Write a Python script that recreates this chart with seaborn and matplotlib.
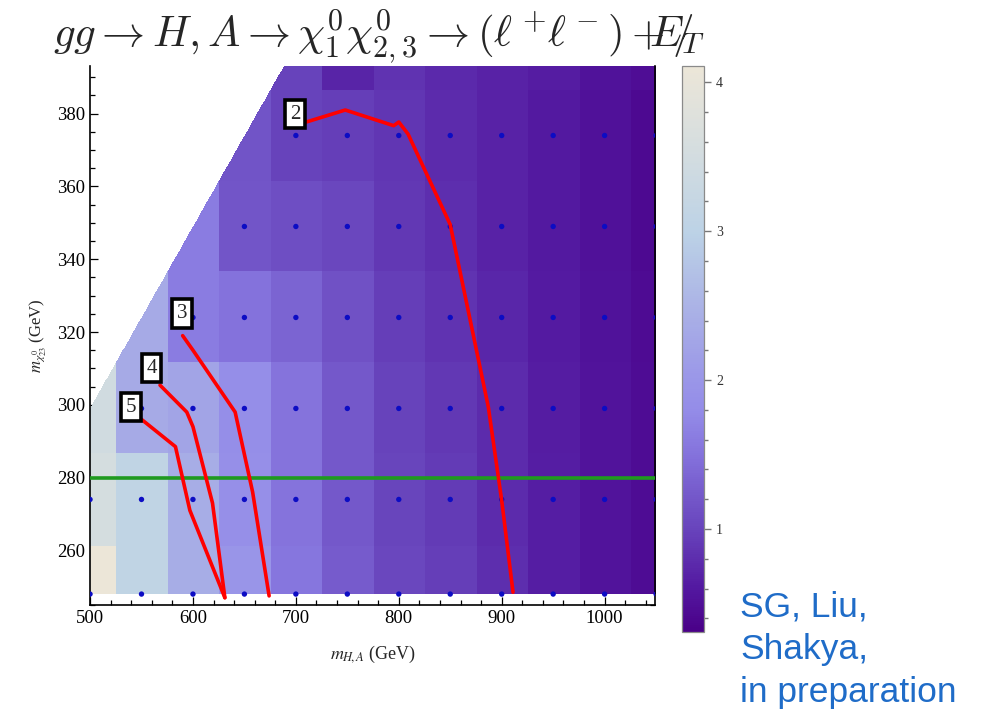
import numpy as np
import pandas as pd
import matplotlib
matplotlib.use("Agg")
import matplotlib.pyplot as plt
import seaborn as sns
from matplotlib.colors import LinearSegmentedColormap
from matplotlib.path import Path
from matplotlib.ticker import MultipleLocator

# ---- grid of benchmark points -------------------------------------------
m_ha = [500, 550, 600, 650, 700, 750, 800, 850, 900, 950, 1000, 1050]
m_chi = [248, 274, 299, 324, 349, 374, 399]

nan = np.nan
# significance at each (m_chi row, m_HA column)
sig_248 = [4.10, 3.10, 2.40, 2.00, 1.55, 1.25, 1.05, 0.95, 0.80, 0.66, 0.56, 0.46]
sig_274 = [3.55, 3.10, 2.40, 1.88, 1.52, 1.22, 1.02, 0.92, 0.78, 0.66, 0.56, 0.46]
sig_299 = [3.45, 2.35, 2.25, 1.85, 1.52, 1.22, 1.00, 0.90, 0.78, 0.65, 0.56, 0.46]
sig_324 = [nan, 2.35, 1.62, 1.50, 1.35, 1.15, 0.95, 0.85, 0.74, 0.63, 0.54, 0.45]
sig_349 = [nan, nan, 1.62, 1.20, 1.12, 1.05, 0.90, 0.80, 0.70, 0.62, 0.52, 0.44]
sig_374 = [nan, nan, nan, 1.18, 1.00, 0.95, 0.88, 0.78, 0.70, 0.62, 0.52, 0.44]
sig_399 = [nan, nan, nan, nan, 1.00, 0.72, 0.85, 0.76, 0.70, 0.64, 0.54, 0.48]

# first simulated (marked) m_HA in each row
marked_from = [500, 500, 550, 600, 650, 700, 750]

# discovery contours (m_HA, m_chi)
c2_x = [710, 748, 795, 800, 809, 850, 887, 900, 911]
c2_y = [377.7, 381.0, 376.7, 377.7, 374.4, 349.5, 299.4, 273.7, 248.5]
c3_x = [590, 600, 641, 658, 674]
c3_y = [319, 315, 298, 276, 247.5]
c4_x = [568, 594, 600, 619, 631]
c4_y = [305.4, 298, 294, 273, 247]
c5_x = [550, 583, 597, 631]
c5_y = [296, 288.5, 271, 247]
contour_names = ["2", "3", "4", "5"]
contour_xs = [c2_x, c3_x, c4_x, c5_x]
contour_ys = [c2_y, c3_y, c4_y, c5_y]

mass_line = 280

# ---- styling --------------------------------------------------------------
sns.set_style("white")
plt.rcParams["font.family"] = ["Liberation Serif", "DejaVu Serif"]

cmap = LinearSegmentedColormap.from_list(
    "sig",
    [(0.00, "#4a0088"), (0.076, "#5318a0"), (0.181, "#6844bc"),
     (0.312, "#8472dc"), (0.391, "#948ce8"), (0.444, "#9a96e8"),
     (0.575, "#abb3e6"), (0.706, "#bcd2e6"), (0.837, "#d2dce0"),
     (1.00, "#ece6d8")])
vmin, vmax = 0.31, 4.11

fig = plt.figure(figsize=(9.84, 7.11), dpi=100)
ax = fig.add_axes([0.0915, 0.1491, 0.5742, 0.7581])
cax = fig.add_axes([0.6928, 0.1115, 0.0230, 0.7957])

xlim = (500, 1049)
ylim = (245, 393.1)

# ---- nearest-point density inside the convex hull of the points -----------
Z = np.array([sig_248, sig_274, sig_299, sig_324, sig_349, sig_374, sig_399])
X, Y = np.meshgrid(m_ha, m_chi)
ok = ~np.isnan(Z)
px, py, pz = X[ok].astype(float), Y[ok].astype(float), Z[ok]

gx = np.arange(xlim[0], 1050.01, 0.5)
gy = np.arange(ylim[0], ylim[1] + 0.01, 0.25)
GX, GY = np.meshgrid(gx, gy)
best = np.full(GX.shape, np.inf)
field = np.full(GX.shape, np.nan)
for xi, yi, zi in zip(px, py, pz):
    d = (GX - xi) ** 2 + (GY - yi) ** 2
    closer = d < best
    best[closer] = d[closer]
    field[closer] = zi


def convex_hull(pts):
    pts = sorted(set(pts))
    def cross(o, a, b):
        return (a[0] - o[0]) * (b[1] - o[1]) - (a[1] - o[1]) * (b[0] - o[0])
    lower, upper = [], []
    for p in pts:
        while len(lower) >= 2 and cross(lower[-2], lower[-1], p) <= 0:
            lower.pop()
        lower.append(p)
    for p in reversed(pts):
        while len(upper) >= 2 and cross(upper[-2], upper[-1], p) <= 0:
            upper.pop()
        upper.append(p)
    return lower[:-1] + upper[:-1]


hull = Path(convex_hull(list(zip(px, py))))
inside = hull.contains_points(np.c_[GX.ravel(), GY.ravel()], radius=0.01)
field[~inside.reshape(GX.shape)] = np.nan

cm = cmap.copy()
cm.set_bad((1, 1, 1, 0))
im = ax.imshow(field, origin="lower", cmap=cm, vmin=vmin, vmax=vmax,
               extent=[gx[0], gx[-1], gy[0], gy[-1]], aspect="auto",
               interpolation="nearest", zorder=1)

# simulated points
rows = []
for yi, first, zrow in zip(m_chi, marked_from, Z):
    for xi, zi in zip(m_ha, zrow):
        if xi >= first and not np.isnan(zi):
            rows.append({"m_ha": xi, "m_chi": yi})
dots = pd.DataFrame(rows)
sns.scatterplot(data=dots, x="m_ha", y="m_chi", color="#0c0cc4", s=15,
                edgecolor="none", ax=ax, zorder=3, legend=False)

ax.axhline(mass_line, color="#1f9a1f", lw=2.6, zorder=4)

label_pos = [(699, 379.8), (589.5, 325.1), (559.8, 310.1), (539.8, 299.4)]
for name, cx, cy, (lx, ly) in zip(contour_names, contour_xs, contour_ys, label_pos):
    sns.lineplot(x=cx, y=cy, sort=False, estimator=None, color="#ff0000",
                 lw=2.6, ax=ax, zorder=5)
    ax.text(lx, ly, name, ha="center", va="center", fontsize=15, zorder=6,
            bbox=dict(boxstyle="square,pad=0.22", fc="white", ec="black", lw=2.6))

ax.set_xlim(*xlim)
ax.set_ylim(*ylim)
ax.xaxis.set_major_locator(MultipleLocator(100))
ax.xaxis.set_minor_locator(MultipleLocator(20))
ax.yaxis.set_major_locator(MultipleLocator(20))
ax.yaxis.set_minor_locator(MultipleLocator(5))
ax.tick_params(which="both", direction="in", left=True, right=True,
               bottom=True, top=False, labelsize=13.5, colors="black",
               width=0.9)
ax.tick_params(which="major", length=6)
ax.tick_params(which="minor", length=3.5)
ax.spines["top"].set_visible(False)
for s in ("left", "bottom", "right"):
    ax.spines[s].set_color("black")
    ax.spines[s].set_linewidth(1.2)

ax.set_xlabel(r"$m_{H\!,A}$ (GeV)", fontsize=13, labelpad=12,
              math_fontfamily="stix")
ax.set_ylabel(r"$m_{\chi^0_{23}}$ (GeV)", fontsize=12, labelpad=6,
              math_fontfamily="stix")

# colour bar
cb = fig.colorbar(im, cax=cax)
cb.set_ticks([1, 2, 3, 4])
cb.ax.yaxis.set_minor_locator(MultipleLocator(0.2))
cb.ax.tick_params(which="both", direction="out", colors="#777777",
                  labelcolor="#333333", labelsize=10, width=1.0)
cb.ax.tick_params(which="major", length=5)
cb.ax.tick_params(which="minor", length=3)
cb.outline.set_edgecolor("#8a8a8a")
cb.outline.set_linewidth(0.9)

fig.text(0.054, 0.948,
         r"$gg \rightarrow H, A \rightarrow \chi_1^0\chi_{2,3}^0 \rightarrow "
         r"(\ell^+\!\ell^-) + /\!\!\!\!\!\!\!E_T$",
         fontsize=31, ha="left", va="center", math_fontfamily="cm")

fig.text(0.752, 0.086, "SG, Liu,\nShakya,\nin preparation", fontsize=25.5,
         color="#1f6cc8", ha="left", va="center", linespacing=1.38,
         family=["Liberation Sans", "DejaVu Sans"])

fig.savefig("out.png", dpi=100)
